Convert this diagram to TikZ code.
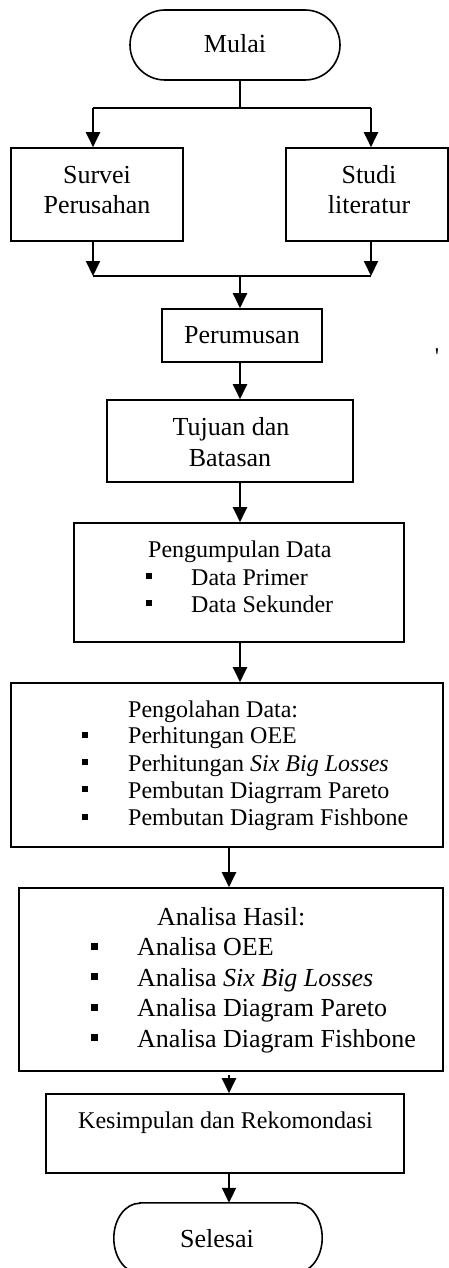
\documentclass[tikz,border=0pt]{standalone}
\usepackage{fontspec}
\setmainfont{Liberation Serif}
\usetikzlibrary{arrows.meta}
\begin{document}
\begin{tikzpicture}[x=1pt,y=-1pt,
  boxst/.style={draw,line width=1.6pt,rectangle,inner sep=0pt},
  big/.style={font=\fontsize{26}{30}\selectfont},
  small/.style={font=\fontsize{24}{27.5}\selectfont},
  txt/.style={inner sep=0pt,anchor=base west},
  ctxt/.style={inner sep=0pt,anchor=base},
  bul/.style={fill=black,inner sep=0pt,minimum size=6pt},
  bulb/.style={fill=black,inner sep=0pt,minimum size=7pt},
  conn/.style={line width=2pt},
  arr/.style={line width=2pt,-{Triangle[length=15pt,width=14pt]}}]
\useasboundingbox (0,0) rectangle (449,1268);

% boxes
\node[boxst,rounded corners=35pt,minimum width=210pt,minimum height=70pt] (mulai) at (235,45) {};
\node[boxst,minimum width=172pt,minimum height=93pt] (survei) at (97,194.5) {};
\node[boxst,minimum width=162pt,minimum height=93pt] (studi) at (367,194.5) {};
\node[boxst,minimum width=160pt,minimum height=53pt] (perumusan) at (242,335.5) {};
\node[boxst,minimum width=246pt,minimum height=82pt] (tujuan) at (230,441) {};
\node[boxst,minimum width=330pt,minimum height=119pt] (kumpul) at (239,582.5) {};
\node[boxst,minimum width=432pt,minimum height=164pt] (olah) at (227,765) {};
\node[boxst,minimum width=424pt,minimum height=183pt] (analisa) at (231,979.5) {};
\node[boxst,minimum width=358pt,minimum height=79pt] (simpul) at (225,1133.5) {};
\node[inner sep=0pt,minimum width=208pt,minimum height=70pt] (selesai) at (218,1238) {};
\draw[line width=1.6pt] ([xshift=26pt]selesai.north west) -- ([xshift=-26pt]selesai.north east)
  arc[start angle=90,end angle=-90,x radius=26pt,y radius=35pt]
  -- ([xshift=26pt]selesai.south west)
  arc[start angle=270,end angle=90,x radius=26pt,y radius=35pt] -- cycle;

% texts
\node[big,ctxt] (tmulai) at (235,53) {Mulai};
\node[big,ctxt] (tsurvei1) at (97,183) {Survei};
\node[big,ctxt] (tsurvei2) at (97,213) {Perusahan};
\node[big,ctxt] (tstudi1) at (369,183) {Studi};
\node[big,ctxt] (tstudi2) at (369,213) {literatur};
\node[big,ctxt] (tperumusan) at (242,343) {Perumusan};
\node[small,ctxt] (tick) at (437,364) {\textquotesingle};
\node[big,ctxt] (ttujuan1) at (231,435) {Tujuan dan};
\node[big,ctxt] (ttujuan2) at (230,466) {Batasan};

\node[small,txt] (tk0) at (148,557) {Pengumpulan Data};
\node[small,txt] (tk1) at (191,585) {Data Primer};
\node[small,txt] (tk2) at (191,612) {Data Sekunder};
\node[bul] (bk1) at (149,576) {};
\node[bul] (bk2) at (149,603) {};

\node[small,txt] (to0) at (128,717) {Pengolahan Data:};
\node[small,txt] (to1) at (128,743.5) {Perhitungan OEE};
\node[small,txt] (to2) at (128,771) {Perhitungan \textit{Six Big Losses}};
\node[small,txt] (to3) at (128,798) {Pembutan Diagrram Pareto};
\node[small,txt] (to4) at (128,825.5) {Pembutan Diagram Fishbone};
\node[bul] (bo1) at (85,734.5) {};
\node[bul] (bo2) at (85,762) {};
\node[bul] (bo3) at (85,789) {};
\node[bul] (bo4) at (85,816.5) {};

\node[big,txt] (ta0) at (157,925) {Analisa Hasil:};
\node[big,txt] (ta1) at (137,955.5) {Analisa OEE};
\node[big,txt] (ta2) at (137,986) {Analisa \textit{Six Big Losses}};
\node[big,txt] (ta3) at (137,1016.5) {Analisa Diagram Pareto};
\node[big,txt] (ta4) at (137,1047) {Analisa Diagram Fishbone};
\node[bulb] (ba1) at (94.5,946) {};
\node[bulb] (ba2) at (94.5,976.5) {};
\node[bulb] (ba3) at (94.5,1007) {};
\node[bulb] (ba4) at (94.5,1037.5) {};

\node[small,txt] (tsimpul) at (78,1128) {Kesimpulan dan Rekomondasi};
\node[big,ctxt] (tselesai) at (217,1247) {Selesai};

% connectors
\coordinate (m1) at (240,80);
\coordinate (j1) at (240,108);
\coordinate (l1) at (93,108);
\coordinate (r1) at (371,108);
\coordinate (l2) at (93,276);
\coordinate (r2) at (371,276);
\coordinate (j2) at (240,276);
\coordinate (c2) at (229,0);
\draw[conn] (m1) -- (j1);
\draw[conn] (l1) -- (r1);
\draw[arr] (l1) -- (l1 |- survei.north);
\draw[arr] (r1) -- (r1 |- studi.north);
\draw[arr] (l1 |- survei.south) -- (l2);
\draw[arr] (r1 |- studi.south) -- (r2);
\draw[conn] (l2) -- (r2);
\draw[arr] (j2) -- (j2 |- perumusan.north);
\draw[arr] (j2 |- perumusan.south) -- (j2 |- tujuan.north);
\draw[arr] (j2 |- tujuan.south) -- (j2 |- kumpul.north);
\draw[arr] (j2 |- kumpul.south) -- (j2 |- olah.north);
\draw[arr] (c2 |- olah.south) -- (c2 |- analisa.north);
\draw[arr] ([yshift=-3pt]c2 |- analisa.south) -- (c2 |- simpul.north);
\draw[arr] (c2 |- simpul.south) -- (c2 |- selesai.north);
\end{tikzpicture}
\end{document}
